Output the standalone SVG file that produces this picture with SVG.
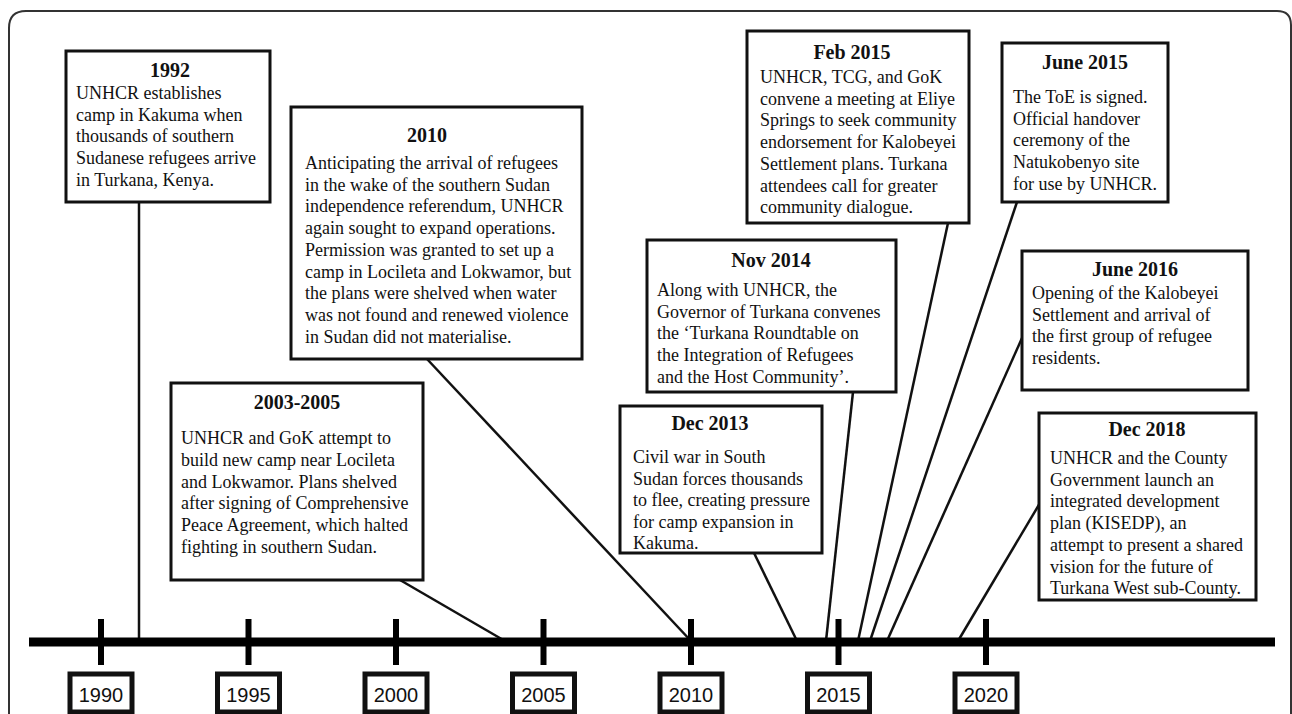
<svg xmlns="http://www.w3.org/2000/svg" width="1292" height="714" viewBox="0 0 1292 714">
<style>
.box{fill:#fff;stroke:#111;stroke-width:3}
.ttl{font-family:"Liberation Serif","Times New Roman",serif;font-weight:bold;font-size:20px;fill:#111;text-anchor:middle}
.txt{font-family:"Liberation Serif","Times New Roman",serif;font-size:18px;fill:#111}
.con{stroke:#111;stroke-width:2.5;fill:none}
.yr{fill:#fff;stroke:#111;stroke-width:5}
.yt{font-family:"Liberation Sans",Arial,sans-serif;font-size:20px;fill:#111;text-anchor:middle}
</style>
<rect x="0" y="0" width="1292" height="714" fill="#fff"/>
<path d="M9,714 L9,28 Q9,11 26,11 L1277,11 Q1291,11 1291,25 L1291,714" fill="none" stroke="#333" stroke-width="2"/>

<g id="connectors">
<line class="con" x1="139" y1="202" x2="139" y2="641"/>
<line class="con" x1="427" y1="359" x2="691" y2="641"/>
<line class="con" x1="400" y1="580" x2="505" y2="641"/>
<line class="con" x1="754" y1="553" x2="797" y2="641"/>
<line class="con" x1="853" y1="392" x2="826" y2="641"/>
<line class="con" x1="948" y1="223" x2="858" y2="641"/>
<line class="con" x1="1017" y1="202" x2="870" y2="641"/>
<line class="con" x1="1022" y1="338" x2="887" y2="641"/>
<line class="con" x1="1040" y1="503" x2="958" y2="641"/>
</g>

<g id="axis">
<line x1="29" y1="642" x2="1275" y2="642" stroke="#000" stroke-width="9"/>
<g stroke="#000" stroke-width="6">
<line x1="101" y1="619" x2="101" y2="665"/>
<line x1="248.5" y1="619" x2="248.5" y2="665"/>
<line x1="396" y1="619" x2="396" y2="665"/>
<line x1="543.5" y1="619" x2="543.5" y2="665"/>
<line x1="691" y1="619" x2="691" y2="665"/>
<line x1="838.5" y1="619" x2="838.5" y2="665"/>
<line x1="986" y1="619" x2="986" y2="665"/>
</g>
</g>

<g id="year-1990"><rect class="yr" x="70" y="674" width="62" height="38"/><text class="yt" x="101" y="702">1990</text></g>
<g id="year-1995"><rect class="yr" x="217.5" y="674" width="62" height="38"/><text class="yt" x="248.5" y="702">1995</text></g>
<g id="year-2000"><rect class="yr" x="365" y="674" width="62" height="38"/><text class="yt" x="396" y="702">2000</text></g>
<g id="year-2005"><rect class="yr" x="512.5" y="674" width="62" height="38"/><text class="yt" x="543.5" y="702">2005</text></g>
<g id="year-2010"><rect class="yr" x="660" y="674" width="62" height="38"/><text class="yt" x="691" y="702">2010</text></g>
<g id="year-2015"><rect class="yr" x="807.5" y="674" width="62" height="38"/><text class="yt" x="838.5" y="702">2015</text></g>
<g id="year-2020"><rect class="yr" x="955" y="674" width="62" height="38"/><text class="yt" x="986" y="702">2020</text></g>

<g id="ev-1992">
<rect class="box" x="66" y="51" width="204" height="151"/>
<text class="ttl" x="170" y="77">1992</text>
<text class="txt"><tspan x="76" y="99">UNHCR establishes</tspan><tspan x="76" y="120.7">camp in Kakuma when</tspan><tspan x="76" y="142.4">thousands of southern</tspan><tspan x="76" y="164.1">Sudanese refugees arrive</tspan><tspan x="76" y="185.8">in Turkana, Kenya.</tspan></text>
</g>

<g id="ev-2010">
<rect class="box" x="291" y="107" width="291" height="252"/>
<text class="ttl" x="427" y="142">2010</text>
<text class="txt"><tspan x="305" y="169">Anticipating the arrival of refugees</tspan><tspan x="305" y="190.7">in the wake of the southern Sudan</tspan><tspan x="305" y="212.4">independence referendum, UNHCR</tspan><tspan x="305" y="234.1">again sought to expand operations.</tspan><tspan x="305" y="255.8">Permission was granted to set up a</tspan><tspan x="305" y="277.5">camp in Locileta and Lokwamor, but</tspan><tspan x="305" y="299.2">the plans were shelved when water</tspan><tspan x="305" y="320.9">was not found and renewed violence</tspan><tspan x="305" y="342.6">in Sudan did not materialise.</tspan></text>
</g>

<g id="ev-2003-2005">
<rect class="box" x="171" y="383" width="252" height="197"/>
<text class="ttl" x="297" y="409">2003-2005</text>
<text class="txt"><tspan x="181" y="444">UNHCR and GoK attempt to</tspan><tspan x="181" y="465.8">build new camp near Locileta</tspan><tspan x="181" y="487.6">and Lokwamor. Plans shelved</tspan><tspan x="181" y="509.4">after signing of Comprehensive</tspan><tspan x="181" y="531.2">Peace Agreement, which halted</tspan><tspan x="181" y="553">fighting in southern Sudan.</tspan></text>
</g>

<g id="ev-dec2013">
<rect class="box" x="620" y="406" width="202" height="147"/>
<text class="ttl" x="710" y="430">Dec 2013</text>
<text class="txt"><tspan x="633" y="463">Civil war in South</tspan><tspan x="633" y="484.6">Sudan forces thousands</tspan><tspan x="633" y="506.2">to flee, creating pressure</tspan><tspan x="633" y="527.8">for camp expansion in</tspan><tspan x="633" y="549.4">Kakuma.</tspan></text>
</g>

<g id="ev-nov2014">
<rect class="box" x="647" y="240" width="249" height="152"/>
<text class="ttl" x="771" y="267">Nov 2014</text>
<text class="txt"><tspan x="657" y="296">Along with UNHCR, the</tspan><tspan x="657" y="317.7">Governor of Turkana convenes</tspan><tspan x="657" y="339.4">the ‘Turkana Roundtable on</tspan><tspan x="657" y="361.1">the Integration of Refugees</tspan><tspan x="657" y="382.8">and the Host Community’.</tspan></text>
</g>

<g id="ev-feb2015">
<rect class="box" x="747" y="31" width="222" height="192"/>
<text class="ttl" x="852" y="59">Feb 2015</text>
<text class="txt"><tspan x="760" y="83">UNHCR, TCG, and GoK</tspan><tspan x="760" y="104.7">convene a meeting at Eliye</tspan><tspan x="760" y="126.4">Springs to seek community</tspan><tspan x="760" y="148.1">endorsement for Kalobeyei</tspan><tspan x="760" y="169.8">Settlement plans. Turkana</tspan><tspan x="760" y="191.5">attendees call for greater</tspan><tspan x="760" y="213.2">community dialogue.</tspan></text>
</g>

<g id="ev-june2015">
<rect class="box" x="1002" y="43" width="166" height="159"/>
<text class="ttl" x="1085" y="69">June 2015</text>
<text class="txt"><tspan x="1013" y="103">The ToE is signed.</tspan><tspan x="1013" y="124.7">Official handover</tspan><tspan x="1013" y="146.4">ceremony of the</tspan><tspan x="1013" y="168.1">Natukobenyo site</tspan><tspan x="1013" y="189.8">for use by UNHCR.</tspan></text>
</g>

<g id="ev-june2016">
<rect class="box" x="1022" y="251" width="226" height="139"/>
<text class="ttl" x="1135" y="276">June 2016</text>
<text class="txt"><tspan x="1032" y="299">Opening of the Kalobeyei</tspan><tspan x="1032" y="320.7">Settlement and arrival of</tspan><tspan x="1032" y="342.4">the first group of refugee</tspan><tspan x="1032" y="364.1">residents.</tspan></text>
</g>

<g id="ev-dec2018">
<rect class="box" x="1039" y="413" width="217" height="187"/>
<text class="ttl" x="1147" y="436">Dec 2018</text>
<text class="txt"><tspan x="1050" y="464">UNHCR and the County</tspan><tspan x="1050" y="485.7">Government launch an</tspan><tspan x="1050" y="507.4">integrated development</tspan><tspan x="1050" y="529.1">plan (KISEDP), an</tspan><tspan x="1050" y="550.8">attempt to present a shared</tspan><tspan x="1050" y="572.5">vision for the future of</tspan><tspan x="1050" y="594.2">Turkana West sub-County.</tspan></text>
</g>
</svg>
